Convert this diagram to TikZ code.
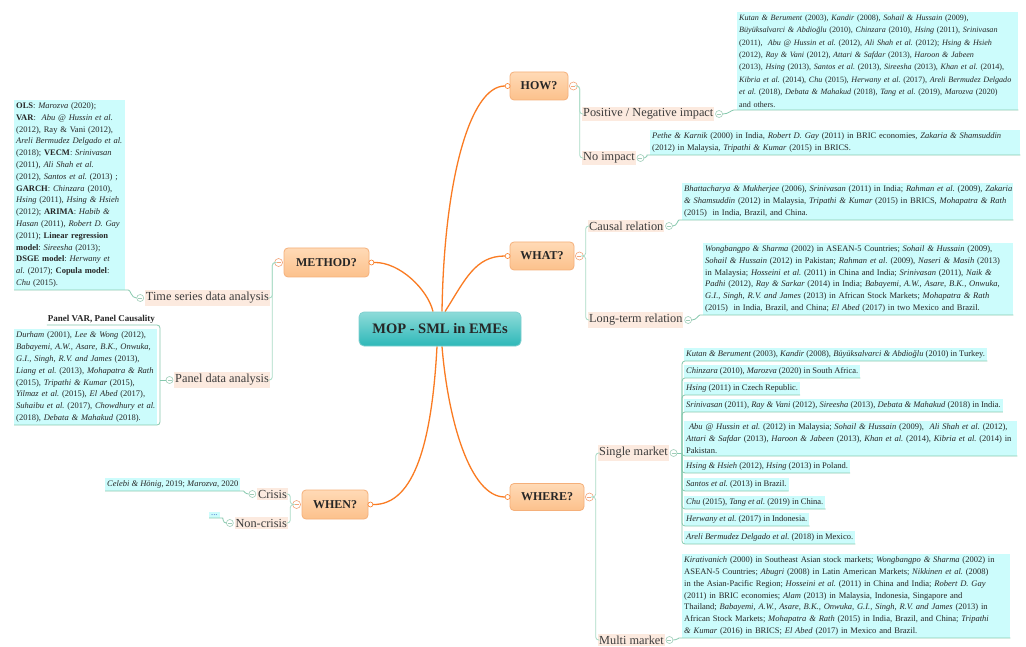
\documentclass[tikz,border=0pt]{standalone}
\usepackage{fontspec}
\setmainfont{Liberation Serif}
\usetikzlibrary{calc,backgrounds}
\frenchspacing
\definecolor{orline}{HTML}{FA7B22}
\definecolor{orbd}{HTML}{F5B07A}
\definecolor{ortop}{HTML}{FFDAB6}
\definecolor{orbot}{HTML}{FCC18C}
\definecolor{tealtop}{HTML}{8EDBD9}
\definecolor{tealbot}{HTML}{2DB8B8}
\definecolor{tealbd}{HTML}{7FCFCF}
\definecolor{peach}{HTML}{FCEADF}
\definecolor{cyanf}{HTML}{CCFCFC}
\definecolor{mint}{HTML}{A9DBC6}
\definecolor{mintd}{HTML}{86C9AE}
\definecolor{lbltext}{HTML}{3C3C3C}
\definecolor{foldor}{HTML}{F3A57A}
\definecolor{foldgr}{HTML}{9FCDB8}
\definecolor{dotsc}{HTML}{3A62C8}
\newcommand\notefont{\fontsize{8.5}{11.8}\selectfont\frenchspacing}
\newcommand\LL[1]{\mbox{#1}}
\tikzset{
 centre/.style={rounded corners=5pt, draw=tealbd, line width=0.8pt, top color=tealtop, bottom color=tealbot, minimum width=162pt, minimum height=34pt, font=\bfseries\fontsize{14.5}{16}\selectfont, text=black!85},
 topic/.style={rounded corners=4pt, draw=orbd, line width=0.8pt, top color=ortop, bottom color=orbot, minimum height=28pt, font=\bfseries\fontsize{12}{14}\selectfont, text=black!85, inner sep=0pt},
 lbl/.style={fill=peach, font=\fontsize{12.3}{14}\selectfont, text=lbltext, inner xsep=1pt, inner ysep=2pt},
 note/.style={fill=cyanf, font=\notefont, align=left, inner xsep=2pt, inner ysep=2.5pt, anchor=south west, text=black!85},
 cnx/.style={draw=orline, line width=1.3pt},
 att/.style={circle, draw=orline, fill=white, minimum size=5pt, inner sep=0pt, line width=0.6pt},
 tfold/.style={circle, draw=foldor, fill=white, minimum size=8pt, inner sep=0pt, line width=0.6pt, path picture={\draw[foldor, line width=0.6pt] ([xshift=-2pt]path picture bounding box.center) -- ([xshift=2pt]path picture bounding box.center);}},
 lfold/.style={circle, draw=foldgr, fill=white, minimum size=7pt, inner sep=0pt, line width=0.6pt, path picture={\draw[foldgr, line width=0.6pt] ([xshift=-2pt]path picture bounding box.center) -- ([xshift=2pt]path picture bounding box.center);}},
 br/.style={draw=mint, line width=0.8pt, rounded corners=3pt},
 ul/.style={draw=mintd, line width=0.8pt, rounded corners=3pt},
}
\begin{document}
\begin{tikzpicture}[x=1pt,y=-1pt]
\useasboundingbox (0,0) rectangle (1026,647);

% main topics
\node[centre] (c) at (440,329) {MOP - SML in EMEs};
\node[topic, minimum width=58pt] (how) at (539,86) {HOW?};
\node[topic, minimum width=64pt] (what) at (542,256) {WHAT?};
\node[topic, minimum width=85pt, minimum height=29pt] (method) at (326.5,262.5) {METHOD?};
\node[topic, minimum width=74pt, minimum height=27pt] (where) at (547,497) {WHERE?};
\node[topic, minimum width=66pt, minimum height=29pt] (when) at (335,504.5) {WHEN?};

\node[att] (howA) at ($(how.west)+(-2,0)$) {};
\node[att] (whatA) at ($(what.west)+(-2,0)$) {};
\node[att] (methodA) at ($(method.east)+(2,0)$) {};
\node[att] (whereA) at ($(where.west)+(-2,0)$) {};
\node[att] (whenA) at ($(when.east)+(2,0)$) {};

\node[tfold] (howF) at ($(how.east)+(5,0)$) {};
\node[tfold] (whatF) at ($(what.east)+(5,0)$) {};
\node[tfold] (methodF) at ($(method.west)+(-5,0)$) {};
\node[tfold] (whereF) at ($(where.east)+(5,0)$) {};
\node[tfold] (whenF) at ($(when.west)+(-5,0)$) {};

% HOW
\node[lbl, anchor=west] (pos) at (582,114) {Positive / Negative impact};
\node[lfold] (posF) at ($(pos.east)+(4.5,0)$) {};
\node[lbl, anchor=west] (noimp) at (582,158) {No impact};
\node[lfold] (noimpF) at ($(noimp.east)+(4.5,0)$) {};
\draw[br] (howF.east) -- ++(2,0) |- (pos.west);
\draw[br] (howF.east) -- ++(2,0) |- (noimp.west);
\node[note, text width=277pt, font=\fontsize{8.1}{12.4}\selectfont] (posN) at (737,110) {%
\LL{\textit{Kutan \& Berument} (2003), \textit{Kandir} (2008), \textit{Sohail \& Hussain} (2009),}\\
\LL{\textit{Büyüksalvarci \& Abdioğlu} (2010), \textit{Chinzara} (2010), \textit{Hsing} (2011), \textit{Srinivasan}}\\
\LL{(2011), \ \textit{Abu @ Hussin et al.} (2012), \textit{Ali Shah et al.} (2012); \textit{Hsing \& Hsieh}}\\
\LL{(2012), \textit{Ray \& Vani} (2012), \textit{Attari \& Safdar} (2013), \textit{Haroon \& Jabeen}}\\
\LL{(2013), \textit{Hsing} (2013), \textit{Santos et al.} (2013), \textit{Sireesha} (2013), \textit{Khan et al.} (2014),}\\
\LL{\textit{Kibria et al.} (2014), \textit{Chu} (2015), \textit{Herwany et al.} (2017), \textit{Areli Bermudez Delgado}}\\
\LL{\textit{et al.} (2018), \textit{Debata \& Mahakud} (2018), \textit{Tang et al.} (2019), \textit{Marozva} (2020)}\\
\LL{and others.}};
\draw[ul] (posF.east) to[out=0,in=180] (posN.south west) -- (posN.south east);
\node[note, text width=366pt] (noimpN) at (650,155) {%
\LL{\textit{Pethe \& Karnik} (2000) in India, \textit{Robert D. Gay} (2011) in BRIC economies, \textit{Zakaria \& Shamsuddin}}\\
\LL{(2012) in Malaysia, \textit{Tripathi \& Kumar} (2015) in BRICS.}};
\draw[ul] (noimpF.east) to[out=0,in=180] (noimpN.south west) -- (noimpN.south east);

% WHAT
\node[lbl, anchor=west] (causal) at (588,226) {Causal relation};
\node[lfold] (causalF) at ($(causal.east)+(4.5,0)$) {};
\node[lbl, anchor=west] (longt) at (588,320) {Long-term relation};
\node[lfold] (longtF) at ($(longt.east)+(4.5,0)$) {};
\draw[br] (whatF.east) -- ++(2,0) |- (causal.west);
\draw[br] (whatF.east) -- ++(2,0) |- (longt.west);
\node[note, text width=327pt] (causalN) at (682,220) {%
\LL{\textit{Bhattacharya \& Mukherjee} (2006), \textit{Srinivasan} (2011) in India; \textit{Rahman et al.} (2009), \textit{Zakaria}}\\
\LL{\textit{\& Shamsuddin} (2012) in Malaysia, \textit{Tripathi \& Kumar} (2015) in BRICS, \textit{Mohapatra \& Rath}}\\
\LL{(2015) \ in India, Brazil, and China.}};
\draw[ul] (causalF.east) to[out=0,in=180] (causalN.south west) -- (causalN.south east);
\node[note, text width=306pt] (longtN) at (703,315) {%
\LL{\textit{Wongbangpo \& Sharma} (2002) in ASEAN-5 Countries; \textit{Sohail \& Hussain} (2009),}\\
\LL{\textit{Sohail \& Hussain} (2012) in Pakistan; \textit{Rahman et al.} (2009), \textit{Naseri \& Masih} (2013)}\\
\LL{in Malaysia; \textit{Hosseini et al.} (2011) in China and India; \textit{Srinivasan} (2011), \textit{Naik \&}}\\
\LL{\textit{Padhi} (2012), \textit{Ray \& Sarkar} (2014) in India; \textit{Babayemi, A.W., Asare, B.K., Onwuka,}}\\
\LL{\textit{G.I., Singh, R.V. and James} (2013) in African Stock Markets; \textit{Mohapatra \& Rath}}\\
\LL{(2015) \ in India, Brazil, and China; \textit{El Abed} (2017) in two Mexico and Brazil.}};
\draw[ul] (longtF.east) to[out=0,in=180] (longtN.south west) -- (longtN.south east);

% WHERE
\node[lbl, anchor=west] (single) at (598,453) {Single market};
\node[lfold] (singleF) at ($(single.east)+(4.5,0)$) {};
\node[lbl, anchor=west] (multi) at (598,640) {Multi market};
\node[lfold] (multiF) at ($(multi.east)+(4.5,0)$) {};
\draw[br] (whereF.east) -- ++(2,0) |- (single.west);
\draw[br] (whereF.east) -- ++(2,0) |- (multi.west);
\node[note] (s1) at (684,361) {\LL{\textit{Kutan \& Berument} (2003), \textit{Kandir} (2008), \textit{Büyüksalvarci \& Abdioğlu} (2010) in Turkey.}};
\node[note] (s2) at (684,378) {\LL{\textit{Chinzara} (2010), \textit{Marozva} (2020) in South Africa.}};
\node[note] (s3) at (684,395) {\LL{\textit{Hsing} (2011) in Czech Republic.}};
\node[note] (s4) at (684,412) {\LL{\textit{Srinivasan} (2011), \textit{Ray \& Vani} (2012), \textit{Sireesha} (2013), \textit{Debata \& Mahakud} (2018) in India.}};
\node[note, text width=329pt] (s5) at (684,456) {%
\LL{\ \textit{Abu @ Hussin et al.} (2012) in Malaysia; \textit{Sohail \& Hussain} (2009), \ \textit{Ali Shah et al.} (2012),}\\
\LL{\textit{Attari \& Safdar} (2013), \textit{Haroon \& Jabeen} (2013), \textit{Khan et al.} (2014), \textit{Kibria et al.} (2014) in}\\
\LL{Pakistan.}};
\node[note] (s6) at (684,473) {\LL{\textit{Hsing \& Hsieh} (2012), \textit{Hsing} (2013) in Poland.}};
\node[note] (s7) at (684,491) {\LL{\textit{Santos et al.} (2013) in Brazil.}};
\node[note] (s8) at (684,509) {\LL{\textit{Chu} (2015), \textit{Tang et al.} (2019) in China.}};
\node[note] (s9) at (684,526) {\LL{\textit{Herwany et al.} (2017) in Indonesia.}};
\node[note] (s10) at (684,544) {\LL{\textit{Areli Bermudez Delgado et al.} (2018) in Mexico.}};
\coordinate (sS) at (682,453);
\draw[ul] (singleF.east) -- (sS);
\foreach \k in {1,...,10} {\draw[ul] (sS) |- (s\k.south east);}
\node[note, text width=324pt] (multiN) at (682,638) {%
\LL{\textit{Kirativanich} (2000) in Southeast Asian stock markets; \textit{Wongbangpo \& Sharma} (2002) in}\\
\LL{ASEAN-5 Countries; \textit{Abugri} (2008) in Latin American Markets; \textit{Nikkinen et al.} (2008)}\\
\LL{in the Asian-Pacific Region; \textit{Hosseini et al.} (2011) in China and India; \textit{Robert D. Gay}}\\
\LL{(2011) in BRIC economies; \textit{Alam} (2013) in Malaysia, Indonesia, Singapore and}\\
\LL{Thailand; \textit{Babayemi, A.W., Asare, B.K., Onwuka, G.I., Singh, R.V. and James} (2013) in}\\
\LL{African Stock Markets; \textit{Mohapatra \& Rath} (2015) in India, Brazil, and China; \textit{Tripathi}}\\
\LL{\textit{\& Kumar} (2016) in BRICS; \textit{El Abed} (2017) in Mexico and Brazil.}};
\draw[ul] (multiF.east) to[out=0,in=180] (multiN.south west) -- (multiN.south east);

% METHOD
\node[lbl, anchor=east] (ts) at (270,298) {Time series data analysis};
\node[lfold] (tsF) at ($(ts.west)+(-4.5,0)$) {};
\node[lbl, anchor=east] (pd) at (270,380) {Panel data analysis};
\node[lfold] (pdF) at ($(pd.west)+(-4.5,0)$) {};
\draw[br] (methodF.west) -- ++(-2,0) |- (ts.east);
\draw[br] (methodF.west) -- ++(-2,0) |- (pd.east);
\node[note, text width=107pt] (methN) at (14,290) {%
\LL{\textbf{OLS}: \textit{Marozva} (2020);}\\
\LL{\textbf{VAR}: \ \textit{Abu @ Hussin et al.}}\\
\LL{(2012), Ray \& Vani (2012),}\\
\LL{\textit{Areli Bermudez Delgado et al.}}\\
\LL{(2018); \textbf{VECM}: \textit{Srinivasan}}\\
\LL{(2011), \textit{Ali Shah et al.}}\\
\LL{(2012), \textit{Santos et al.} (2013) ;}\\
\LL{\textbf{GARCH}: \textit{Chinzara} (2010),}\\
\LL{\textit{Hsing} (2011), \textit{Hsing \& Hsieh}}\\
\LL{(2012); \textbf{ARIMA}: \textit{Habib \&}}\\
\LL{\textit{Hasan} (2011), \textit{Robert D. Gay}}\\
\LL{(2011); \textbf{Linear regression}}\\
\LL{\textbf{model}: \textit{Sireesha} (2013);}\\
\LL{\textbf{DSGE model}: \textit{Herwany et}}\\
\LL{\textit{al.} (2017); \textbf{Copula model}:}\\
\LL{\textit{Chu} (2015).}};
\draw[ul] (methN.south west) -- (methN.south east) to[out=0,in=180] (tsF.west);
\node[font=\bfseries\fontsize{9}{11}\selectfont, anchor=south east, inner xsep=1pt, inner ysep=1.5pt, text=black!85] (pvar) at (156,325) {Panel VAR, Panel Causality};
\node[note, text width=139pt] (pbox) at (14,425) {%
\LL{\textit{Durham} (2001), \textit{Lee \& Wong} (2012),}\\
\LL{\textit{Babayemi, A.W., Asare, B.K., Onwuka,}}\\
\LL{\textit{G.I., Singh, R.V. and James} (2013),}\\
\LL{\textit{Liang et al.} (2013), \textit{Mohapatra \& Rath}}\\
\LL{(2015), \textit{Tripathi \& Kumar} (2015),}\\
\LL{\textit{Yilmaz et al.} (2015), \textit{El Abed} (2017),}\\
\LL{\textit{Suhaibu et al.} (2017), \textit{Chowdhury et al.}}\\
\LL{(2018), \textit{Debata \& Mahakud} (2018).}};
\coordinate (pS) at (160,380);
\draw[ul] (pdF.west) -- (pS);
\draw[ul] (pvar.south west) -| (pS);
\draw[ul] (pbox.south west) -| (pS);

% WHEN
\node[lbl, anchor=east] (crisis) at (288,494) {Crisis};
\node[lfold] (crisisF) at ($(crisis.west)+(-4.5,0)$) {};
\node[lbl, anchor=east] (noncrisis) at (288,523) {Non-crisis};
\node[lfold] (noncrisisF) at ($(noncrisis.west)+(-4.5,0)$) {};
\draw[br] (whenF.west) -- ++(-2,0) |- (crisis.east);
\draw[br] (whenF.west) -- ++(-2,0) |- (noncrisis.east);
\node[note] (crN) at (105,491) {\LL{\textit{Celebi \& Hönig}, 2019; \textit{Marozva}, 2020}};
\draw[ul] (crN.south west) -- (crN.south east) to[out=0,in=180] (crisisF.west);
\node[note, text=dotsc] (ncN) at (209,518) {...};
\draw[ul] (ncN.south west) -- (ncN.south east) to[out=0,in=180] (noncrisisF.west);

\begin{scope}[on background layer]
\fill[white] (0,0) rectangle (1026,647);
\draw[cnx] ($(c.north)+(2,0)$) .. controls (444,180) and (470,86) .. (howA);
\draw[cnx] ($(c.north)+(5,0)$) .. controls (465,280) and (475,256) .. (whatA);
\draw[cnx] ($(c.north)+(-7,0)$) .. controls (428,290) and (400,262) .. (methodA);
\draw[cnx] ($(c.south)+(2,0)$) .. controls (448,420) and (470,497) .. (whereA);
\draw[cnx] ($(c.south)+(-3,0)$) .. controls (432,440) and (415,505) .. (whenA);
\end{scope}
\end{tikzpicture}
\end{document}
